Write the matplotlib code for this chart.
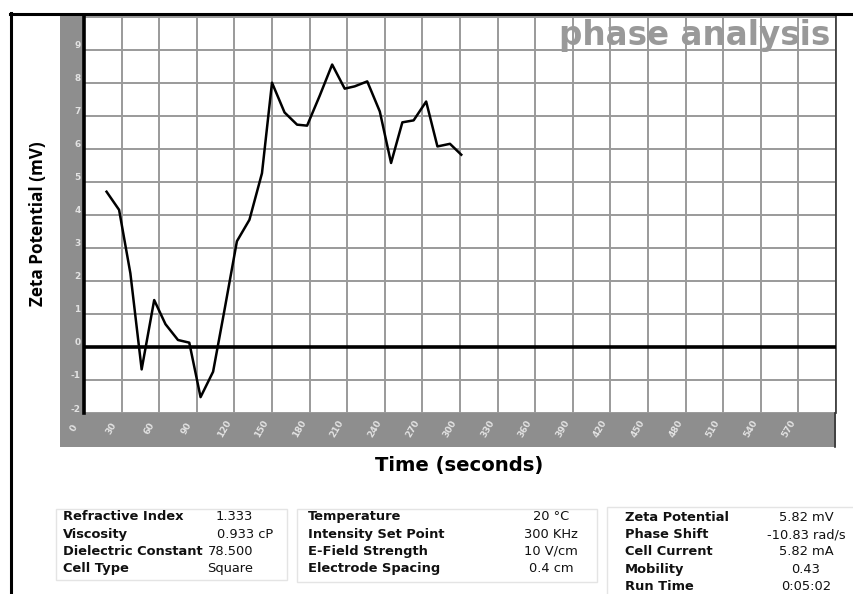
import matplotlib
matplotlib.use("Agg")
import matplotlib.pyplot as plt
from matplotlib.patches import Rectangle
from matplotlib.lines import Line2D
from matplotlib.transforms import ScaledTranslation

# Zeta potential trace (time in seconds, potential in mV)
time_s = [18, 28, 37, 46, 56, 65, 75, 84, 93, 103, 112, 122, 132, 142, 150,
          160, 170, 178, 188, 198, 208, 216, 226, 236, 245, 254, 263, 273,
          282, 292, 301]
zeta_mv = [4.70, 4.15, 2.23, -0.68, 1.42, 0.69, 0.21, 0.13, -1.52, -0.75, 1.10,
           3.20, 3.85, 5.26, 8.00, 7.10, 6.73, 6.70, 7.60, 8.55, 7.82, 7.89,
           8.04, 7.13, 5.57, 6.80, 6.86, 7.43, 6.07, 6.15, 5.82]

x_ticks = list(range(0, 600, 30))
y_ticks = list(range(-2, 10))

# Measurement settings and results
settings_1 = [("Refractive Index", "1.333"), ("Viscosity", "0.933 cP"),
              ("Dielectric Constant", "78.500"), ("Cell Type", "Square")]
settings_2 = [("Temperature", "20 °C"), ("Intensity Set Point", "300 KHz"),
              ("E-Field Strength", "10 V/cm"), ("Electrode Spacing", "0.4 cm")]
results = [("Zeta Potential", "5.82 mV"), ("Phase Shift", "-10.83 rad/s"),
           ("Cell Current", "5.82 mA"), ("Mobility", "0.43"),
           ("Run Time", "0:05:02")]

W, H = 854, 594
fig = plt.figure(figsize=(W / 100, H / 100), dpi=100)


def fx(px):
    return px / W


def fy(py):
    return 1 - py / H


STRIP = "#8e8e8e"
GRID = "#9a9a9a"

# grey label strips behind the tick labels
fig.patches.append(Rectangle((fx(60), fy(447)), fx(836) - fx(60), fy(413) - fy(447),
                             transform=fig.transFigure, facecolor=STRIP,
                             edgecolor="none", zorder=-2))
fig.patches.append(Rectangle((fx(60), fy(413)), fx(84) - fx(60), fy(15) - fy(413),
                             transform=fig.transFigure, facecolor=STRIP,
                             edgecolor="none", zorder=-2))

ax = fig.add_axes([fx(84), fy(413), fx(836) - fx(84), fy(15) - fy(413)])
ax.set_xlim(0, 600)
ax.set_ylim(-2, 10.05)
ax.set_xticks(x_ticks)
ax.set_yticks(y_ticks)
ax.set_xticklabels([str(v) for v in x_ticks])
ax.set_yticklabels([str(v) for v in y_ticks])
ax.grid(True, color=GRID, linewidth=1.4)
ax.axvline(600, color=GRID, linewidth=1.4)
ax.axhline(9.98, color=GRID, linewidth=1.4)
ax.set_axisbelow(True)
ax.tick_params(length=0)
ax.tick_params(axis="x", pad=11)
ax.tick_params(axis="y", pad=2.5)

for lbl in ax.get_xticklabels():
    lbl.set_rotation(60)
    lbl.set_ha("center")
    lbl.set_va("center")
    lbl.set_color("#e2e2e2")
    lbl.set_fontsize(6.5)
    lbl.set_fontweight("bold")
    lbl.set_transform(lbl.get_transform() + ScaledTranslation(-0.10, 0, fig.dpi_scale_trans))
for lbl in ax.get_yticklabels():
    lbl.set_color("#e2e2e2")
    lbl.set_fontsize(6.5)
    lbl.set_fontweight("bold")
    lbl.set_transform(lbl.get_transform() + ScaledTranslation(0, 0.05, fig.dpi_scale_trans))

for side in ("top", "bottom"):
    ax.spines[side].set_visible(False)
ax.spines["left"].set_color("black")
ax.spines["left"].set_linewidth(2.6)
ax.spines["right"].set_color("#333333")
ax.spines["right"].set_linewidth(1.2)

ax.axhline(0, color="black", linewidth=2.6, zorder=3)
ax.plot(time_s, zeta_mv, color="black", linewidth=1.8, zorder=4)

ax.text(0.993, 0.99, "phase analysis", transform=ax.transAxes, ha="right", va="top",
        fontsize=23.5, fontweight="bold", color="#999999", family="DejaVu Sans",
        zorder=5)

fig.text(fx(38.5), fy(224), "Zeta Potential (mV)", rotation=90, ha="center", va="center",
         fontsize=12.3, fontweight="bold", family="Open Sans")
fig.text(fx(459), fy(466), "Time (seconds)", ha="center", va="center",
         fontsize=14.1, fontweight="bold", family="DejaVu Sans")

# outer frame
fig.add_artist(Line2D([fx(10), fx(854)], [fy(14), fy(14)], color="black",
                      linewidth=2.2, transform=fig.transFigure))
fig.add_artist(Line2D([fx(11), fx(11)], [fy(13), fy(594)], color="black",
                      linewidth=2.2, transform=fig.transFigure))
fig.add_artist(Line2D([fx(835.5), fx(835.5)], [fy(413), fy(447)], color="#333333",
                      linewidth=1.2, transform=fig.transFigure))

# info boxes
for (x0, y0, x1, y1) in [(56, 509, 287, 580), (297, 509, 597, 582), (607, 507, 860, 600)]:
    fig.patches.append(Rectangle((fx(x0), fy(y1)), fx(x1) - fx(x0), fy(y0) - fy(y1),
                                 transform=fig.transFigure, facecolor="white",
                                 edgecolor="#e4e4e4", linewidth=1.0, zorder=-1))

TXT = dict(fontsize=9.4, family="DejaVu Sans", va="baseline", color="#111111")
rows_y = [520, 538, 555, 572]
for (name, val), yy, vx in zip(settings_1, rows_y, [253, 273, 253, 253]):
    fig.text(fx(63), fy(yy), name, fontweight="bold", ha="left", **TXT)
    fig.text(fx(vx), fy(yy), val, ha="right", **TXT)
for (name, val), yy in zip(settings_2, rows_y):
    fig.text(fx(308), fy(yy), name, fontweight="bold", ha="left", **TXT)
    fig.text(fx(551), fy(yy), val, ha="center", **TXT)
rows_y3 = [521, 538, 555, 573, 590]
for (name, val), yy in zip(results, rows_y3):
    fig.text(fx(625), fy(yy), name, fontweight="bold", ha="left", **TXT)
    fig.text(fx(806), fy(yy), val, ha="center", **TXT)

fig.savefig("out.png", dpi=100, facecolor="white")
